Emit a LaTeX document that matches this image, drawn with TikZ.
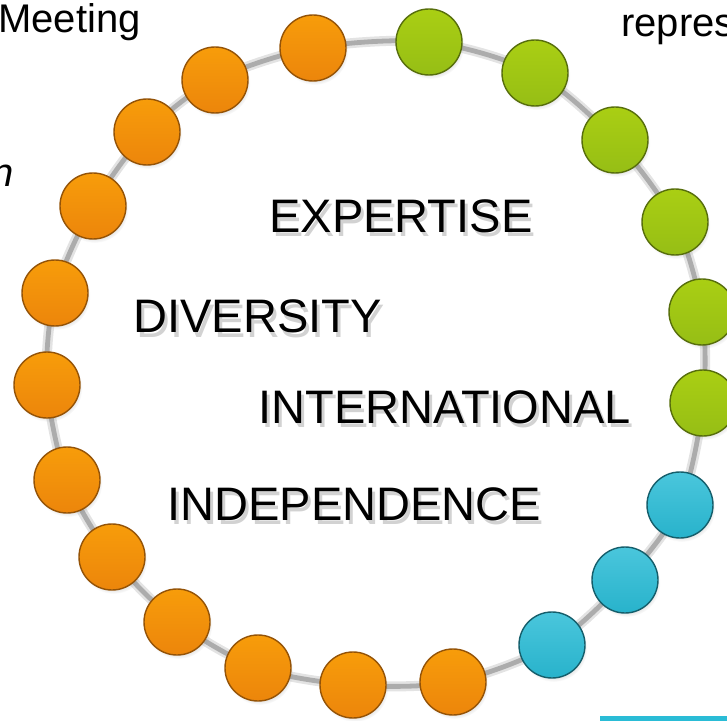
\documentclass[tikz,border=0pt]{standalone}
\usepackage{fontspec}
\setmainfont{Liberation Sans}
\usetikzlibrary{shadows}
\definecolor{beadorange}{RGB}{246,139,12}
\definecolor{beadgreen}{RGB}{158,200,22}
\definecolor{beadblue}{RGB}{42,188,214}
\begin{document}
\begin{tikzpicture}[x=0.5pt, y=-0.5pt,
  bead/.style = {circle, minimum size=33pt, inner sep=0pt, line width=0.7pt,
    circular drop shadow={shadow xshift=0.8pt, shadow yshift=-1.6pt,
      shadow scale=1.02, opacity=0.22}},
  O/.style = {bead, draw=beadorange!60!black,
    top color=beadorange!85!yellow, bottom color=beadorange!96!black},
  G/.style = {bead, draw=beadgreen!55!black,
    top color=beadgreen!88!yellow, bottom color=beadgreen!95!black},
  B/.style = {bead, draw=beadblue!50!black,
    top color=beadblue!85!white, bottom color=beadblue!95!black},
  word/.style = {anchor=base west, inner sep=0pt,
    font=\fontsize{23.5}{28}\selectfont},
  side/.style = {inner sep=0pt, font=\fontsize{20}{24}\selectfont},
  ]
  \useasboundingbox (0,0) rectangle (727,721);
  % positions of the beads
  \foreach \x/\y [count=\i] in {313/48, 429/42, 535/73, 615/140, 675/222,
      702/312, 703/403, 680/505, 625/580, 552/645, 453/682, 353/685,
      258/668, 177/622, 112/557, 67/480, 47/385, 55/293, 93/206,
      147/132, 215/80}
    \coordinate (c\i) at (\x,\y);
  % the string
  \draw[gray!22, line width=5pt, yshift=-2pt] plot[smooth cycle] coordinates {
    (c1) (c2) (c3) (c4) (c5) (c6) (c7) (c8) (c9) (c10) (c11)
    (c12) (c13) (c14) (c15) (c16) (c17) (c18) (c19) (c20) (c21)};
  \draw[gray!65, line width=2.4pt] plot[smooth cycle] coordinates {
    (c1) (c2) (c3) (c4) (c5) (c6) (c7) (c8) (c9) (c10) (c11)
    (c12) (c13) (c14) (c15) (c16) (c17) (c18) (c19) (c20) (c21)};
  % the beads
  \foreach \c [count=\i] in {O,G,G,G,G,G,G,B,B,B,O,O,O,O,O,O,O,O,O,O,O}
    \node[\c] (b\i) at (c\i) {};
  % words in the ring
  \foreach \t/\x/\y in {EXPERTISE/269/233, DIVERSITY/133/333,
      INTERNATIONAL/258/423, INDEPENDENCE/167/520} {
    \node[word, text=gray!35] at (\x+3,\y+4) {\t};
    \node[word] (\t) at (\x,\y) {\t};
  }
  % cut text at the edges
  \node[side, anchor=base west] (meeting) at (-2,33) {Meeting};
  \node[side, anchor=base west] (repres) at (621,37) {repres};
  \node[side, anchor=base east] (cutn) at (14,187) {\itshape n};
  \fill[beadblue] (600,716) rectangle (727,721);
\end{tikzpicture}
\end{document}
